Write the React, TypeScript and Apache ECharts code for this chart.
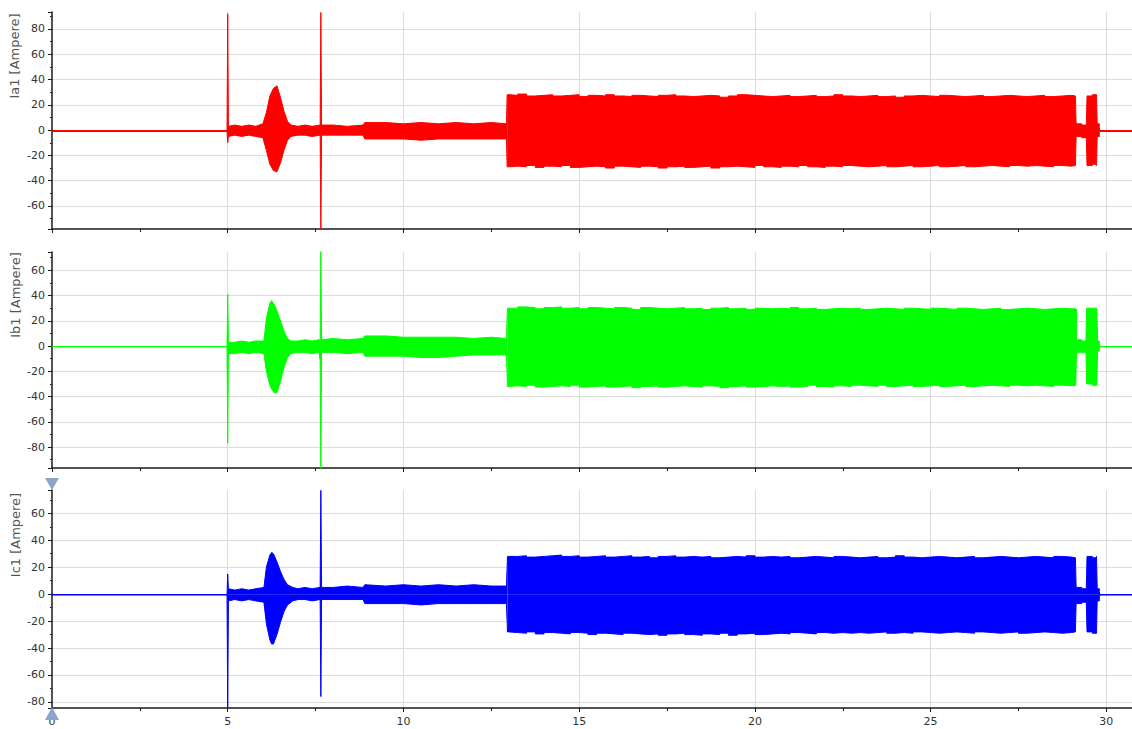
import React, { useEffect, useRef } from "react";
import * as echarts from "echarts";

// ---------- data ----------
const X_MAX = 30.73;
const panelNames = ["Ia1 [Ampere]", "Ib1 [Ampere]", "Ic1 [Ampere]"];
const panelColors = ["#ff0000", "#00ff00", "#0000ff"];
const yMin = [-78.2, -96.6, -84.5];
const yMax = [93.4, 74.5, 77.3];

// envelope samples: [time s, upper A, lower A]
const iaPre = [
  [0, -1, -1], [4.98, -1, -1], [5.0, 92, -10], [5.02, 3, -5],
  [5.2, 4, -4], [5.4, 3, -5], [5.6, 4, -4], [5.8, 3, -5], [6.0, 5, -6],
  [6.1, 14, -16], [6.2, 27, -27], [6.3, 33, -32], [6.4, 35, -33], [6.5, 26, -26],
  [6.6, 15, -16], [6.7, 7, -8], [6.8, 4, -5],
  [7.0, 3, -4], [7.2, 4, -4], [7.4, 3, -5], [7.63, 4, -4],
  [7.65, 93, -79], [7.67, 4, -4],
  [8.0, 4, -4], [8.4, 3, -4], [8.85, 4, -4], [8.9, 6, -7], [9.5, 6, -7], [10, 5, -7],
  [10.5, 6, -8], [11, 5, -7], [11.5, 6, -7], [12, 5, -7], [12.5, 6, -7], [12.93, 5, -7],
  [12.95, 28, -29],
];
const iaPost = [
  [29.12, 27, -28], [29.14, 5, -5], [29.3, 4, -6], [29.43, 5, -4], [29.45, 27, -28],
  [29.6, 28, -27], [29.72, 27, -28], [29.74, 5, -5], [29.8, 2, -2], [29.82, -1, -1], [30.73, -1, -1],
];
const ibPre = [
  [0, -0.5, -0.5], [4.98, -0.5, -0.5], [5.0, 41, -77], [5.02, 3, -6],
  [5.2, 3, -6], [5.4, 4, -5], [5.6, 3, -6], [5.8, 4, -5], [6.03, 4, -6],
  [6.1, 22, -20], [6.2, 34, -31], [6.25, 36, -34], [6.32, 33, -37], [6.4, 28, -37],
  [6.5, 20, -28], [6.6, 12, -17], [6.7, 6, -9], [6.8, 4, -6],
  [7.0, 4, -5], [7.2, 5, -5], [7.4, 4, -6], [7.6, 5, -5], [7.63, 4, -12],
  [7.65, 75, -97], [7.67, 5, -5],
  [8.0, 6, -5], [8.4, 5, -6], [8.85, 6, -5], [8.9, 8, -8], [9.5, 8, -8], [10, 7, -8],
  [10.5, 7, -9], [11, 7, -9], [11.5, 7, -8], [12, 6, -7], [12.5, 7, -7], [12.93, 6, -7],
  [12.96, 30, -32],
];
const ibPost = [
  [29.13, 29, -31], [29.15, 5, -5], [29.3, 4, -5], [29.42, 5, -5], [29.44, 30, -30],
  [29.6, 30, -31], [29.73, 30, -30], [29.75, 4, -4], [29.8, 2, -2], [29.82, -0.5, -0.5], [30.73, -0.5, -0.5],
];
const icPre = [
  [0, -0.5, -0.5], [4.98, -0.5, -0.5], [5.0, 15, -85], [5.02, 4, -5],
  [5.2, 3, -4], [5.4, 4, -5], [5.6, 3, -4], [5.8, 4, -5], [6.03, 5, -6],
  [6.1, 20, -22], [6.2, 29, -34], [6.25, 31, -37], [6.3, 30, -37], [6.4, 24, -30],
  [6.5, 17, -21], [6.6, 11, -13], [6.7, 7, -8], [6.85, 5, -5],
  [7.0, 4, -4], [7.2, 5, -4], [7.4, 4, -5], [7.63, 5, -4],
  [7.65, 77, -76], [7.67, 5, -4],
  [8.0, 5, -4], [8.4, 6, -4], [8.85, 5, -4], [8.9, 7, -7], [9.5, 6, -7], [10, 7, -7],
  [10.5, 6, -8], [11, 7, -7], [11.5, 6, -7], [12, 7, -7], [12.5, 6, -7], [12.93, 6, -7],
  [12.96, 28, -28],
];
const icPost = [
  [29.12, 27, -28], [29.14, 5, -7], [29.3, 4, -6], [29.43, 5, -6], [29.45, 28, -28],
  [29.6, 27, -29], [29.72, 28, -28], [29.74, 4, -5], [29.8, 2, -2], [29.82, -0.5, -0.5], [30.73, -0.5, -0.5],
];

const blockTimes = [
  13, 13.25, 13.5, 13.75, 14, 14.25, 14.5, 14.75, 15, 15.25,
  15.5, 15.75, 16, 16.25, 16.5, 16.75, 17, 17.25, 17.5, 17.75,
  18, 18.25, 18.5, 18.75, 19, 19.25, 19.5, 19.75, 20, 20.25,
  20.5, 20.75, 21, 21.25, 21.5, 21.75, 22, 22.25, 22.5, 22.75,
  23, 23.25, 23.5, 23.75, 24, 24.25, 24.5, 24.75, 25, 25.25,
  25.5, 25.75, 26, 26.25, 26.5, 26.75, 27, 27.25, 27.5, 27.75,
  28, 28.25, 28.5, 28.75, 29,
];
const iaBlockHi = [
  27.5, 28.5, 27, 27.5, 28, 27, 27.5, 28, 26.5, 27.5,
  27, 28, 27, 26.5, 27.5, 27, 26.5, 27.5, 28, 27,
  26.5, 27, 27.5, 27, 26, 27, 28, 27.5, 27, 26.5,
  27, 27.5, 26.5, 27, 27.5, 26.5, 27, 28, 27, 26.5,
  27, 27.5, 26.5, 27, 26, 27, 27.5, 27, 26.5, 27.5,
  27, 26.5, 27, 27.5, 26.5, 27, 27.5, 27, 26.5, 27,
  27.5, 26.5, 27, 27.5, 27,
];
const iaBlockLo = [
  -28.5, -29, -28, -29.5, -28.5, -29, -28, -29.5, -29, -28.5,
  -29, -30, -28.5, -29, -29.5, -28.5, -29, -30, -29, -28.5,
  -29.5, -29, -28.5, -30, -29, -28.5, -29, -29.5, -28, -29,
  -29.5, -28.5, -29, -28, -29, -29.5, -28.5, -29, -28, -28.5,
  -29, -28.5, -28, -29, -28.5, -28, -29, -28.5, -28, -29,
  -28.5, -28, -29, -28.5, -28, -28.5, -29, -28, -28.5, -28,
  -28.5, -29, -28, -28.5, -28,
];
const ibBlockHi = [
  30, 31, 30.5, 29.5, 30.5, 31, 30, 30.5, 29.5, 30.5,
  30, 29.5, 30.5, 30, 29, 30.5, 30, 29.5, 30, 30.5,
  29.5, 30, 29, 30, 30.5, 29.5, 30, 29, 30, 29.5,
  30, 29.5, 30.5, 29.5, 30, 29, 29.5, 30, 29.5, 30,
  29, 29.5, 30, 29.5, 29, 30, 29.5, 29, 30, 29.5,
  29, 30, 29.5, 29, 29.5, 30, 29, 29.5, 30, 29.5,
  29, 29.5, 30, 29.5, 29.5,
];
const ibBlockLo = [
  -31.5, -32, -31, -32.5, -32, -31.5, -32, -31, -32.5, -32,
  -31.5, -32.5, -32, -31.5, -33, -32, -31.5, -32.5, -32, -31.5,
  -32, -32.5, -31.5, -32, -33, -32, -31.5, -32.5, -32, -31.5,
  -32, -31.5, -32.5, -32, -31, -32, -32.5, -31.5, -32, -31,
  -31.5, -32, -31, -32, -31.5, -31, -32, -31.5, -31, -32,
  -31.5, -31, -32, -31.5, -31, -31.5, -32, -31, -31.5, -31,
  -31.5, -32, -31, -31.5, -31,
];
const icBlockHi = [
  28, 28.5, 27.5, 28, 28.5, 29, 28, 28.5, 27.5, 28,
  28.5, 27.5, 28, 28.5, 27.5, 28, 27, 28, 28.5, 27.5,
  28, 27.5, 28, 27, 27.5, 28, 27.5, 28.5, 27.5, 28,
  27.5, 28, 27, 27.5, 28, 27.5, 27, 28, 27.5, 27,
  27.5, 28, 27, 27.5, 28.5, 27.5, 27, 27.5, 28, 27.5,
  27, 27.5, 28, 27, 27.5, 28, 27.5, 27, 27.5, 28,
  27.5, 27, 28, 27.5, 27,
];
const icBlockLo = [
  -28.5, -29, -28, -29.5, -28.5, -29, -29.5, -28.5, -29, -30,
  -29, -29.5, -30, -29, -29.5, -30, -29.5, -30.5, -29.5, -29,
  -30, -30.5, -29.5, -30, -29, -30.5, -29.5, -29, -30, -29.5,
  -29, -29.5, -28.5, -29, -29.5, -28.5, -29, -28.5, -29, -28.5,
  -29, -28.5, -28, -29, -28.5, -29, -28, -28.5, -29, -28.5,
  -28, -28.5, -29, -28, -28.5, -29, -28.5, -28, -29, -28.5,
  -28, -28.5, -29, -28.5, -28,
];

// block part starts from the last sample of the early part so the two join
const buildBlock = (pre: number[][], hi: number[], lo: number[], post: number[][]) => [
  pre[pre.length - 1],
  ...blockTimes.map((t, i) => [t, hi[i], lo[i]]),
  ...post,
];

// each panel: [early part (smooth), block part (noisy, stepped)]
const panels = [
  [iaPre, buildBlock(iaPre, iaBlockHi, iaBlockLo, iaPost)],
  [ibPre, buildBlock(ibPre, ibBlockHi, ibBlockLo, ibPost)],
  [icPre, buildBlock(icPre, icBlockHi, icBlockLo, icPost)],
];

// ---------- layout ----------
const FONT = "DejaVu Sans";
const grids = [
  { left: 52, right: 0, top: 12, height: 217 },
  { left: 52, right: 0, top: 252, height: 216 },
  { left: 52, right: 0, top: 490, height: 218 },
];
const nameCenters = [
  [14, 56],
  [15, 295],
  [15, 535],
];

export default function App() {
  const ref = useRef<HTMLDivElement>(null);
  useEffect(() => {
    if (!ref.current) return;
    const chart = echarts.init(ref.current, null, { renderer: "svg" });
    const axisColor = "#1a1a1a";
    const gridColor = "#dcdcdc";

    const xAxis = grids.map((_, k) => ({
      type: "value",
      gridIndex: k,
      min: 0,
      max: X_MAX,
      interval: 5,
      axisLine: { show: true, onZero: false, lineStyle: { color: axisColor, width: 1.5 } },
      axisTick: { show: true, length: 4, lineStyle: { color: axisColor } },
      minorTick: { show: true, splitNumber: 2, length: 3, lineStyle: { color: axisColor } },
      minorSplitLine: { show: false },
      axisLabel: {
        show: k === 2,
        showMaxLabel: false,
        color: "#333",
        fontFamily: FONT,
        fontSize: 11,
        margin: 8,
      },
      splitLine: { show: true, showMinLine: false, showMaxLine: false, lineStyle: { color: gridColor, width: 1 } },
    }));

    const yAxis = grids.map((_, k) => ({
      type: "value",
      gridIndex: k,
      min: yMin[k],
      max: yMax[k],
      splitNumber: 8,
      minInterval: 20,
      maxInterval: 20,
      axisLine: { show: true, onZero: false, lineStyle: { color: axisColor, width: 1.5 } },
      axisTick: { show: true, length: 4, lineStyle: { color: axisColor } },
      minorTick: { show: true, splitNumber: 2, length: 2, lineStyle: { color: axisColor } },
      minorSplitLine: { show: false },
      axisLabel: {
        showMinLabel: false,
        showMaxLabel: false,
        color: "#333",
        fontFamily: FONT,
        fontSize: 11,
        margin: 7,
      },
      splitLine: { show: true, showMinLine: false, showMaxLine: false, lineStyle: { color: gridColor, width: 1 } },
    }));

    const series: any[] = [];
    panels.forEach((parts, k) => {
      parts.forEach((env, partIdx) => {
        [1, 2].forEach((col) => {
          series.push({
            type: "line",
            xAxisIndex: k,
            yAxisIndex: k,
            data: env.map((p) => [p[0], p[col]]),
            symbol: "none",
            showSymbol: false,
            silent: true,
            step: partIdx === 1 ? "end" : false,
            lineStyle: { color: panelColors[k], width: 1, join: "round" },
            areaStyle: { color: panelColors[k], opacity: 1 },
          });
        });
      });
    });

    const graphic: any[] = panelNames.map((name, k) => ({
      type: "text",
      x: nameCenters[k][0],
      y: nameCenters[k][1],
      rotation: Math.PI / 2,
      style: {
        text: name,
        fill: "#555",
        font: `13px "${FONT}"`,
        align: "center",
        verticalAlign: "middle",
      },
    }));
    graphic.push(
      {
        type: "polygon",
        shape: { points: [[45, 478], [59, 478], [52, 490]] },
        style: { fill: "#8aa6c8" },
        z: 100,
      },
      {
        type: "polygon",
        shape: { points: [[52, 707], [45, 720], [59, 720]] },
        style: { fill: "#8aa6c8" },
        z: 100,
      }
    );

    chart.setOption({
      animation: false,
      backgroundColor: "#ffffff",
      grid: grids,
      xAxis,
      yAxis,
      series,
      graphic,
    });
    return () => chart.dispose();
  }, []);

  return (
    <div
      ref={ref}
      style={{ position: "fixed", left: 0, top: 0, width: 1132, height: 729, background: "#fff" }}
    />
  );
}
